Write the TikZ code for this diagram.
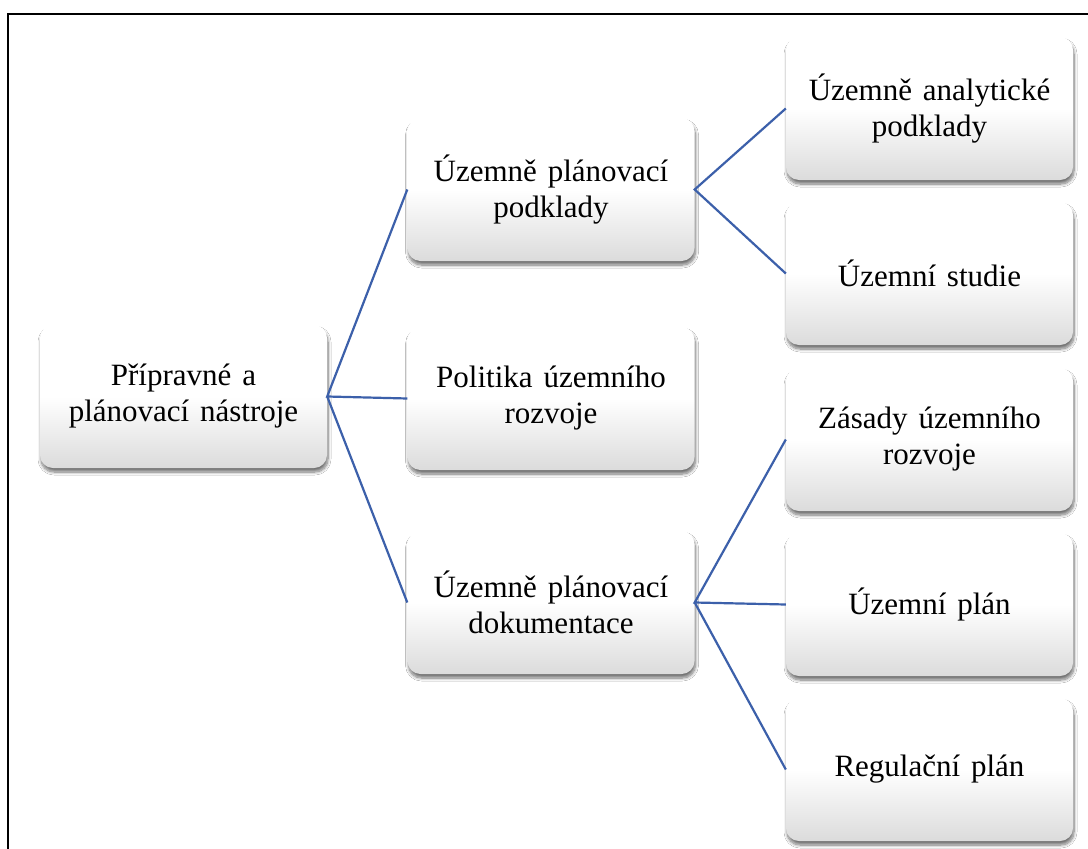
\documentclass[tikz,border=0pt]{standalone}
\usepackage{fontspec}
\setmainfont{Liberation Serif}[WordSpace=1.4]
\usetikzlibrary{shadows.blur}
\definecolor{connblue}{RGB}{60,96,170}
\begin{document}
\begin{tikzpicture}[x=1pt,y=-1pt,
  box/.style={rounded corners=13pt, minimum width=287pt, minimum height=143pt,
    inner sep=0pt, align=center, font=\fontsize{31}{36}\selectfont,
    top color=white, bottom color=black!14, middle color=white,
    blur shadow={shadow xshift=1pt, shadow yshift=-4pt, shadow blur radius=3pt, shadow blur steps=8, shadow opacity=55}},
  link/.style={draw=connblue, line width=2.2pt}]
\useasboundingbox (0,0) rectangle (1088,849);
\fill[white] (0,0) rectangle (1088,849);
\draw[line width=2pt] (8,870) -- (8,14) -- (1110,14);

\node[box] (root) at (183.5,396.5) {Přípravné a\\plánovací nástroje};
\node[box] (m1) at (551,189.5) {Územně plánovací\\podklady};
\node[box] (m2) at (551,398.5) {Politika územního\\rozvoje};
\node[box] (m3) at (551,602.5) {Územně plánovací\\dokumentace};
\node[box] (r1) at (929.5,108.5) {Územně analytické\\podklady};
\node[box] (r2) at (929.5,273.5) {Územní studie};
\node[box] (r3) at (929.5,439.5) {Zásady územního\\rozvoje};
\node[box] (r4) at (929.5,604.5) {Územní plán};
\node[box] (r5) at (929.5,769.5) {Regulační plán};

\draw[link] (m1.west) -- (root.east) -- (m2.west);
\draw[link] (root.east) -- (m3.west);
\draw[link] (r1.west) -- (m1.east) -- (r2.west);
\draw[link] (r3.west) -- (m3.east) -- (r4.west);
\draw[link] (m3.east) -- (r5.west);
\end{tikzpicture}
\end{document}
